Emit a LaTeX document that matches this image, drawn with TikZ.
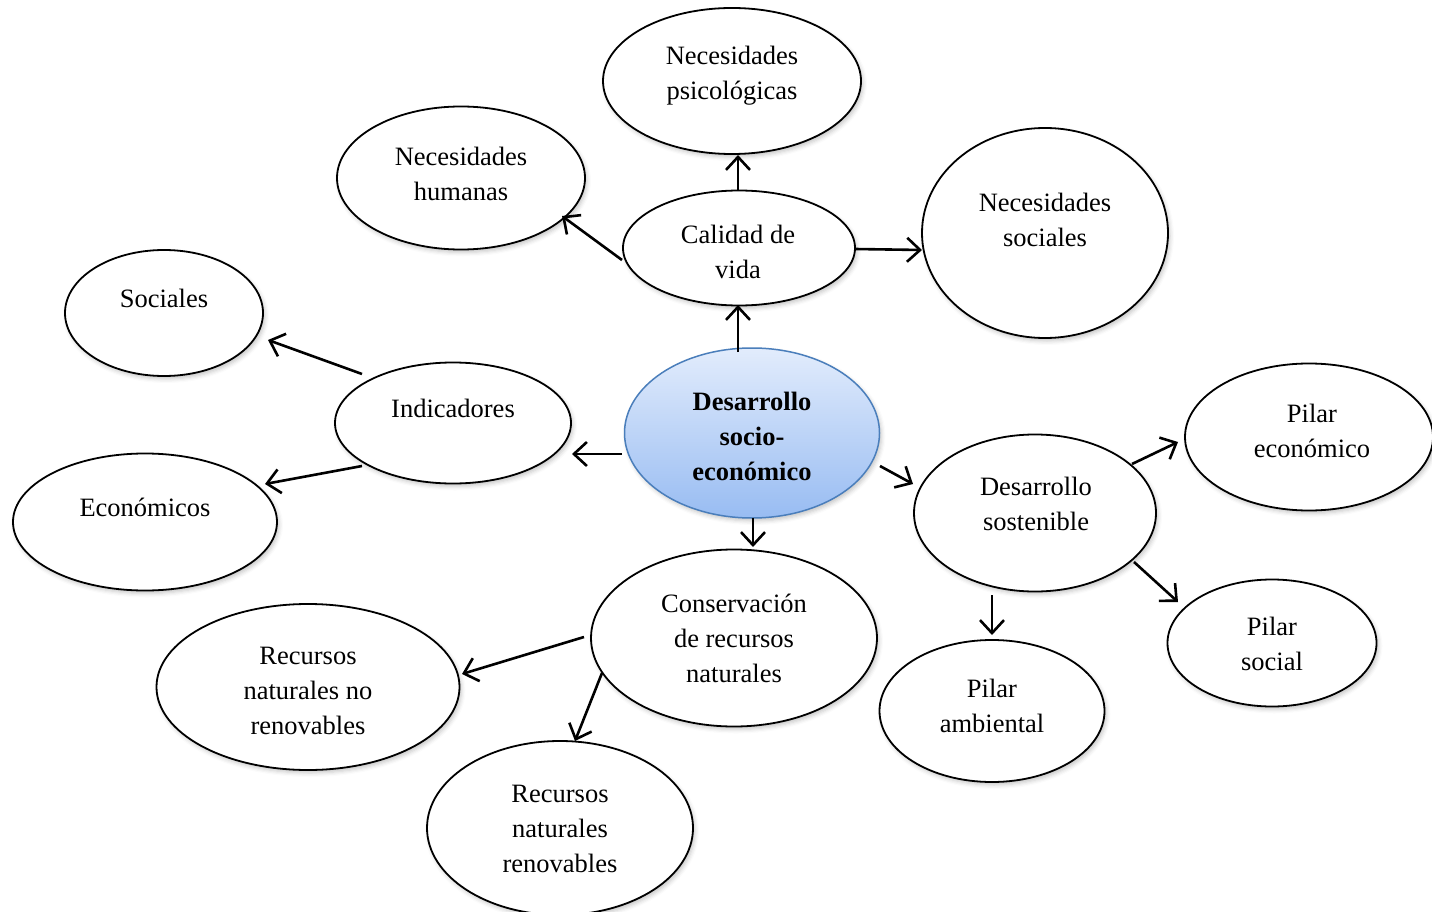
\documentclass[tikz,border=0pt]{standalone}
\usepackage{fontspec}
\setmainfont{Liberation Serif}
\usetikzlibrary{arrows.meta,shapes.geometric,shadows.blur}
\definecolor{cblue}{RGB}{74,126,187}
\definecolor{ctop}{RGB}{226,236,252}
\definecolor{cbot}{RGB}{152,188,242}
\begin{document}
\begin{tikzpicture}[x=1pt,y=-1pt,
  shd/.style={blur shadow={shadow xshift=2pt, shadow yshift=-3pt, shadow opacity=22, shadow blur radius=4pt}},
  ell/.style={ellipse, draw=black, line width=1.8pt, fill=white, inner sep=0pt, outer sep=0pt, shd},
  lbl/.style={align=center, font=\fontsize{26.5}{35}\selectfont, inner sep=0pt},
  arr/.style={line width=2.6pt, -{Straight Barb[length=13pt,width=24pt]}}]
\useasboundingbox (0,0) rectangle (1432,912);
% ellipses
\node[ell, minimum width=258pt, minimum height=146pt] (psi) at (732,81) {};
\node[ell, minimum width=248pt, minimum height=143pt] (hum) at (461,178) {};
\node[ell, minimum width=232pt, minimum height=115pt] (cal) at (739,248) {};
\node[ell, minimum width=246pt, minimum height=210pt] (nso) at (1045,233) {};
\node[ell, minimum width=198pt, minimum height=126pt] (soc) at (164,313) {};
\node[ell, minimum width=236pt, minimum height=121pt] (ind) at (453,423) {};
\node[ell, minimum width=264pt, minimum height=137pt] (eco) at (145,522) {};
\node[ellipse, draw=cblue, line width=1.5pt, top color=ctop, bottom color=cbot, inner sep=0pt, outer sep=0pt, shd, minimum width=255pt, minimum height=170pt] (C) at (752,433) {};
\node[ell, minimum width=248pt, minimum height=147pt] (pe) at (1309,437) {};
\node[ell, minimum width=242pt, minimum height=157pt] (ds) at (1035,513) {};
\node[ell, minimum width=209pt, minimum height=127pt] (ps) at (1272,643) {};
\node[ell, minimum width=225pt, minimum height=142pt] (pa) at (992,711) {};
\node[ell, minimum width=286pt, minimum height=177pt] (con) at (734,638) {};
\node[ell, minimum width=303pt, minimum height=166pt] (nr) at (308,687) {};
\node[ell, minimum width=266pt, minimum height=174pt] (ren) at (560,828) {};
% texts
\node[lbl] (tpsi) at (732,76) {Necesidades\\psicológicas};
\node[lbl] (thum) at (461,174) {Necesidades\\humanas};
\node[lbl] (tcal) at (738,252) {Calidad de\\vida};
\node[lbl] (tnso) at (1045,220) {Necesidades\\sociales};
\node[lbl] (tsoc) at (164,298) {Sociales};
\node[lbl] (tind) at (453,408) {Indicadores};
\node[lbl] (teco) at (145,507) {Económicos};
\node[lbl, font=\fontsize{26.5}{35}\selectfont\bfseries] (tC) at (752,436) {Desarrollo\\socio-\\económico};
\node[lbl] (tpe) at (1312,431) {Pilar\\económico};
\node[lbl] (tds) at (1036,504) {Desarrollo\\sostenible};
\node[lbl] (tps) at (1272,644) {Pilar\\social};
\node[lbl] (tpa) at (992,706) {Pilar\\ambiental};
\node[lbl] (tcon) at (734,638) {Conservación\\de recursos\\naturales};
\node[lbl] (tnr) at (308,691) {Recursos\\naturales no\\renovables};
\node[lbl] (tren) at (560,829) {Recursos\\naturales\\renovables};
% connectors
\draw[arr] ([shift={(-14,-81)}]C.center) -- ([shift={(-1,57)}]cal.center);
\draw[arr] ([shift={(-1,-58)}]cal.center) -- ([shift={(6,74)}]psi.center);
\draw[arr] ([shift={(-117,12)}]cal.center) -- ([shift={(101,38)}]hum.center);
\draw[arr] ([shift={(116,1)}]cal.center) -- ([shift={(-123,17)}]nso.center);
\draw[arr] ([shift={(-130,21)}]C.center) -- ([shift={(119,31)}]ind.center);
\draw[arr] ([shift={(-91,-49)}]ind.center) -- ([shift={(104,27)}]soc.center);
\draw[arr] ([shift={(-91,43)}]ind.center) -- ([shift={(120,-38)}]eco.center);
\draw[arr] ([shift={(128,33)}]C.center) -- ([shift={(-122,-29)}]ds.center);
\draw[arr] ([shift={(97,-49)}]ds.center) -- ([shift={(-131,5)}]pe.center);
\draw[arr] ([shift={(99,49)}]ds.center) -- ([shift={(-94,-41)}]ps.center);
\draw[arr] ([shift={(-43,82)}]ds.center) -- ([shift={(0,-76)}]pa.center);
\draw[arr] ([shift={(1,85)}]C.center) -- ([shift={(19,-91)}]con.center);
\draw[arr] ([shift={(-150,-1)}]con.center) -- ([shift={(154,-13)}]nr.center);
\draw[arr] ([shift={(-132,35)}]con.center) -- ([shift={(15,-87)}]ren.center);
\end{tikzpicture}
\end{document}
